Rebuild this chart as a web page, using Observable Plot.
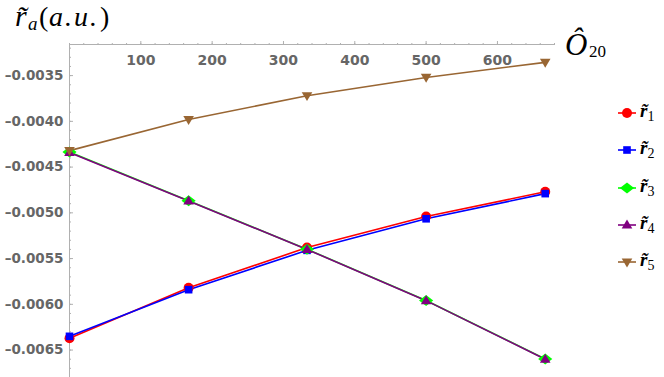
<!DOCTYPE html>
<html><head><meta charset="utf-8">
<script src="https://cdn.jsdelivr.net/npm/d3@7"></script>
<script src="https://cdn.jsdelivr.net/npm/@observablehq/plot@0.6"></script>
<style>
body{margin:0;background:#fff;}
#wrap{position:relative;width:664px;height:377px;overflow:hidden;background:#fff;}
</style></head><body><div id="wrap"></div>
<script>
// Data
const o20 = [0, 167, 333, 500, 667];
const seriesNames = ["1", "2", "3", "4", "5"];
const r1 = [-0.00637, -0.00582, -0.00538, -0.00504, -0.00477];
const r2 = [-0.00635, -0.00584, -0.00541, -0.005065, -0.00479];
const r3 = [-0.004335, -0.004868, -0.005398, -0.005958, -0.006598];
const r4 = [-0.00434, -0.00487, -0.00540, -0.00596, -0.00660];
const r5 = [-0.00432, -0.00398, -0.00372, -0.00352, -0.003355];
const xTickLabels = [100, 200, 300, 400, 500, 600];
const yTickLabels = [-0.0035, -0.0040, -0.0045, -0.0050, -0.0055, -0.0060, -0.0065];

const colors = ["#ff0000", "#0000ff", "#00ff00", "#800080", "#996633"];
const seriesVals = [r1, r2, r3, r4, r5];

// custom symbols
const triUp = {draw(ctx, size){const s=Math.sqrt(size);const w=s*1.3,h=s*1.1;ctx.moveTo(0,-h*0.6);ctx.lineTo(w/2,h*0.4);ctx.lineTo(-w/2,h*0.4);ctx.closePath();}};
const triDown = {draw(ctx, size){const s=Math.sqrt(size);const w=s*1.3,h=s*1.1;ctx.moveTo(0,h*0.6);ctx.lineTo(w/2,-h*0.4);ctx.lineTo(-w/2,-h*0.4);ctx.closePath();}};
const diamond = {draw(ctx, size){const s=Math.sqrt(size);const w=s*0.8,h=s*0.62;ctx.moveTo(0,-h);ctx.lineTo(w,0);ctx.lineTo(0,h);ctx.lineTo(-w,0);ctx.closePath();}};
const symbols = ["circle", "square", diamond, triUp, triDown];
const radii = [5, 4.3, 5, 4.6, 4.6];

const data = seriesVals.flatMap((vals, i) => vals.map((v, j) => ({series: seriesNames[i], x: o20[j], y: v})));

const xDomain = [0, 680];
const yDomain = [-0.0068, -0.00316];
const xMinor = d3.range(0, 681, 20);
const yMinor = d3.range(-68, -31, 1).map(d => d / 10000);

const fmt = d => "\u2013" + Math.abs(d).toFixed(4);
const axisGray = "#b0b0b0";
const labelGray = "#666666";
const tickFont = "'DejaVu Sans', sans-serif";

const marks = [
  Plot.ruleY([yDomain[1]], {stroke: axisGray, strokeWidth: 1}),
  Plot.ruleX([0], {stroke: axisGray, strokeWidth: 1}),
  Plot.axisX({anchor: "top", ticks: xMinor, tickSize: 2, text: null, label: null, stroke: axisGray}),
  Plot.axisX({anchor: "top", ticks: xTickLabels, tickSize: 4, text: null, label: null, stroke: axisGray}),
  Plot.axisY({anchor: "left", ticks: yMinor, tickSize: -2, text: null, label: null, stroke: axisGray}),
  Plot.axisY({anchor: "left", ticks: yTickLabels, tickSize: -4, text: null, label: null, stroke: axisGray}),
  Plot.text(xTickLabels, {x: d => d, frameAnchor: "top", lineAnchor: "top", dy: 11, text: d => String(d),
    fill: labelGray, fontWeight: "bold", fontSize: 14, fontFamily: tickFont}),
  Plot.text(yTickLabels, {y: d => d, frameAnchor: "left", textAnchor: "end", dx: -6, text: fmt,
    fill: labelGray, fontWeight: "bold", fontSize: 13.5, fontFamily: tickFont})
];
seriesNames.forEach((s, i) => {
  marks.push(Plot.line(data.filter(d => d.series === s), {x: "x", y: "y", stroke: colors[i], strokeWidth: 1.6}));
});
seriesNames.forEach((s, i) => {
  marks.push(Plot.dot(data.filter(d => d.series === s), {x: "x", y: "y", fill: colors[i], symbol: symbols[i], r: radii[i], stroke: "none"}));
});

const chart = Plot.plot({
  width: 664, height: 377,
  marginLeft: 69, marginRight: 110, marginTop: 44, marginBottom: 0,
  x: {domain: xDomain}, y: {domain: yDomain},
  style: {background: "#fff", overflow: "visible"},
  marks
});
document.getElementById("wrap").appendChild(chart);

const svg = d3.select(chart);
const serif = "'Liberation Serif', 'DejaVu Serif', serif";
// y axis label
const yl = svg.append("text").attr("y", 26).attr("text-anchor", "start").attr("font-family", serif).attr("font-size", 28).attr("fill", "#000");
yl.append("tspan").attr("x", 15).attr("font-style", "italic").attr("font-size", 30).text("r\u0303");
yl.append("tspan").attr("x", 28).attr("font-style", "italic").attr("font-size", 19).attr("dy", 4).text("a");
yl.append("tspan").attr("x", 39).attr("dy", -4).text("(");
yl.append("tspan").attr("x", 49).attr("font-style", "italic").attr("letter-spacing", 2).text("a.u.");
yl.append("tspan").attr("x", 100).text(")");
// x axis label
const xl = svg.append("text").attr("y", 55).attr("text-anchor", "start").attr("font-family", serif).attr("fill", "#000");
xl.append("tspan").attr("x", 565).attr("font-style", "italic").attr("font-size", 31).text("\u00D4");
xl.append("tspan").attr("x", 589).attr("font-size", 17).attr("dy", 2).text("20");

// legend
const legendY = [113, 150, 188, 225, 262];
seriesNames.forEach((s, i) => {
  const g = svg.append("g").attr("transform", `translate(627,${legendY[i]})`);
  g.append("line").attr("x1", -9).attr("x2", 9).attr("stroke", colors[i]).attr("stroke-width", 1.6);
  const sym = typeof symbols[i] === "string" ? (symbols[i] === "circle" ? d3.symbolCircle : d3.symbolSquare) : symbols[i];
  g.append("path").attr("d", d3.symbol(sym, Math.PI * radii[i] * radii[i])()).attr("fill", colors[i]);
  const t = svg.append("text").attr("x", 640).attr("y", legendY[i] + 4).attr("text-anchor", "start").attr("font-family", serif).attr("font-size", 19).attr("fill", "#000");
  t.append("tspan").attr("font-style", "italic").attr("font-weight", "bold").text("r\u0303");
  t.append("tspan").attr("font-size", 14).attr("dy", 4).text(s);
});
</script>
</body></html>
